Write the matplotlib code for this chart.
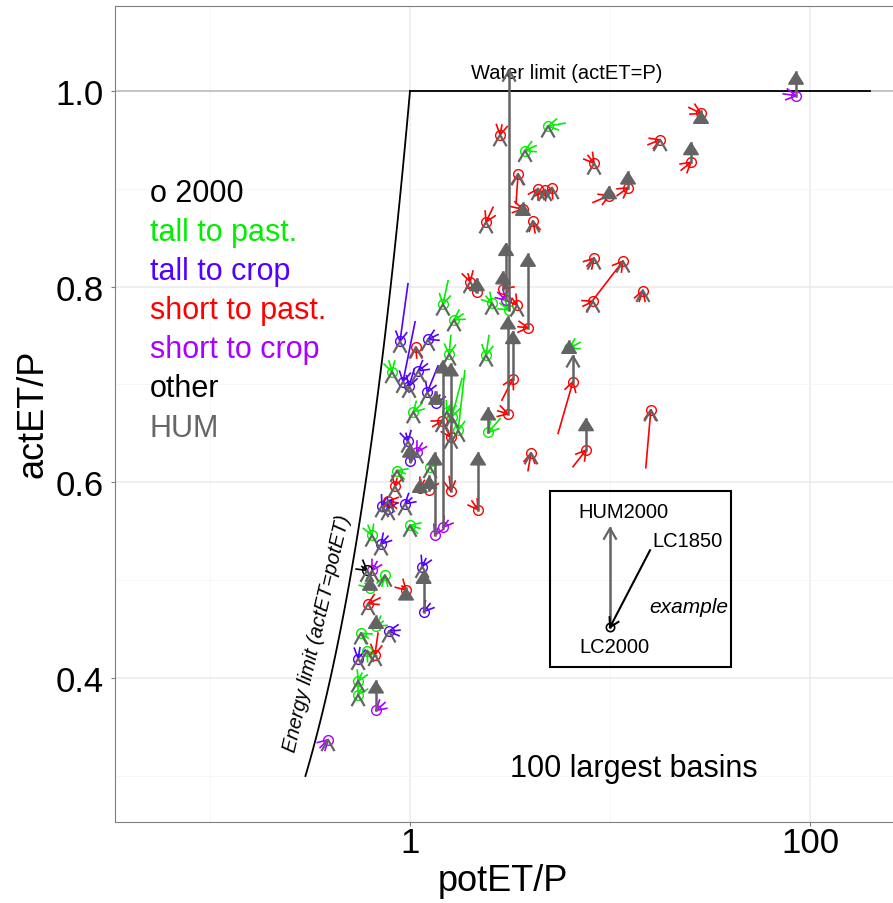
import numpy as np
import matplotlib
matplotlib.use("Agg")
import matplotlib.pyplot as plt
from matplotlib.patches import Rectangle, Polygon
from matplotlib.ticker import FixedLocator, NullFormatter

plt.rcParams['font.family'] = ['Liberation Sans', 'DejaVu Sans']

# --- datos: 100 cuencas mas grandes ---
cat = ['sc', 'sp', 'sp', 'sp', 'tp', 'tp', 'sp', 'sp', 'sp', 'sp',
       'sp', 'sp', 'sp', 'sp', 'sp', 'sp', 'sp', 'sp', 'sp', 'sp',
       'sp', 'sp', 'sp', 'sc', 'sp', 'tp', 'sp', 'tp', 'sp', 'sp',
       'sp', 'tp', 'tp', 'tp', 'tp', 'tp', 'sp', 'sp', 'sp', 'sp',
       'sp', 'sp', 'sc', 'sc', 'tc', 'sp', 'tc', 'tp', 'tp', 'tc',
       'tc', 'tc', 'tc', 'tc', 'tp', 'sp', 'tp', 'tp', 'sp', 'tp',
       'tc', 'sc', 'tc', 'tp', 'sp', 'sp', 'tp', 'sp', 'sp', 'tc',
       'tc', 'tc', 'tp', 'tp', 'tc', 'sc', 'other', 'tp', 'tp', 'tc',
       'tc', 'sp', 'sp', 'tp', 'tp', 'tc', 'tc', 'tp', 'sp', 'tp',
       'tp', 'sc', 'sc']

# potET/P y actET/P con cobertura 2000
pet_2000 = [85.1, 28.5, 17.8, 25.4, 4.90, 3.76, 2.82, 3.47, 3.67, 4.37,
            4.73, 5.13, 8.32, 9.89, 12.3, 2.40, 4.12, 8.32, 11.6, 8.22,
            14.6, 2.00, 2.16, 3.02, 2.92, 2.57, 3.43, 3.13, 3.89, 3.27,
            3.09, 2.46, 2.40, 1.46, 1.66, 6.24, 6.53, 16.0, 7.59, 4.03,
            2.19, 1.60, 1.46, 1.33, 0.891, 1.07, 1.23, 1.57, 0.813, 0.923,
            0.989, 1.10, 1.22, 1.35, 1.04, 1.45, 1.74, 1.62, 1.60, 1.53,
            0.977, 1.08, 1.00, 1.26, 1.12, 1.25, 0.861, 0.841, 0.776, 0.724,
            0.776, 0.944, 1.00, 0.646, 0.716, 0.646, 0.610, 0.631, 0.750, 1.15,
            1.17, 0.955, 0.617, 0.676, 0.569, 0.785, 0.550, 0.610, 0.668, 0.550,
            0.550, 0.676, 0.389]
aet_2000 = [0.995, 0.977, 0.950, 0.927, 0.964, 0.939, 0.955, 0.915, 0.879, 0.900,
            0.899, 0.901, 0.926, 0.893, 0.901, 0.866, 0.867, 0.829, 0.826, 0.785,
            0.796, 0.805, 0.795, 0.786, 0.798, 0.783, 0.781, 0.776, 0.758, 0.706,
            0.670, 0.651, 0.730, 0.782, 0.766, 0.737, 0.703, 0.674, 0.633, 0.630,
            0.572, 0.591, 0.554, 0.546, 0.744, 0.738, 0.746, 0.731, 0.713, 0.703,
            0.698, 0.714, 0.692, 0.681, 0.672, 0.663, 0.653, 0.667, 0.646, 0.672,
            0.642, 0.631, 0.622, 0.616, 0.594, 0.592, 0.612, 0.596, 0.581, 0.576,
            0.573, 0.578, 0.556, 0.546, 0.537, 0.510, 0.510, 0.492, 0.505, 0.514,
            0.468, 0.490, 0.476, 0.453, 0.446, 0.448, 0.420, 0.428, 0.424, 0.397,
            0.383, 0.367, 0.337]

# cobertura 1850
pet_1850 = [73.5, 24.8, 15.5, 22.7, 5.96, 4.27, 2.88, 3.39, 3.16, 4.17,
            4.52, 4.90, 7.76, 8.22, 10.85, 2.60, 4.22, 7.67, 8.13, 7.33,
            14.0, 1.95, 2.04, 2.75, 3.09, 2.40, 3.24, 2.82, 3.47, 2.88,
            2.75, 2.82, 2.48, 1.55, 1.84, 7.08, 5.50, 15.1, 6.53, 3.89,
            2.04, 1.57, 1.55, 1.38, 0.977, 1.08, 1.38, 1.60, 0.785, 1.06,
            1.05, 1.22, 1.38, 1.41, 1.15, 1.30, 1.88, 1.82, 1.51, 1.62,
            0.955, 1.15, 1.02, 1.35, 1.18, 1.30, 0.944, 0.861, 0.871, 0.759,
            0.813, 1.02, 1.12, 0.617, 0.776, 0.684, 0.575, 0.596, 0.724, 1.20,
            1.26, 0.912, 0.708, 0.733, 0.617, 0.891, 0.562, 0.646, 0.692, 0.575,
            0.575, 0.750, 0.355]
aet_1850 = [0.997, 0.983, 0.945, 0.919, 0.967, 0.944, 0.965, 0.885, 0.882, 0.893,
            0.891, 0.893, 0.934, 0.886, 0.893, 0.881, 0.855, 0.821, 0.785, 0.780,
            0.785, 0.813, 0.801, 0.794, 0.802, 0.790, 0.788, 0.783, 0.759, 0.684,
            0.673, 0.665, 0.750, 0.806, 0.772, 0.743, 0.650, 0.615, 0.616, 0.612,
            0.581, 0.606, 0.561, 0.553, 0.803, 0.727, 0.751, 0.750, 0.724, 0.764,
            0.716, 0.721, 0.719, 0.689, 0.681, 0.657, 0.714, 0.706, 0.655, 0.682,
            0.650, 0.640, 0.630, 0.622, 0.602, 0.600, 0.609, 0.604, 0.579, 0.584,
            0.581, 0.584, 0.553, 0.556, 0.545, 0.519, 0.514, 0.497, 0.494, 0.522,
            0.476, 0.494, 0.482, 0.458, 0.441, 0.449, 0.431, 0.420, 0.446, 0.405,
            0.390, 0.375, 0.329]

# actET/P con uso humano del agua (HUM2000)
aet_hum = [1.019, 0.979, 0.950, 0.947, 0.964, 0.939, 0.955, 0.915, 0.885, 0.900,
           0.899, 0.901, 0.926, 0.902, 0.917, 0.866, 0.867, 0.829, 0.826, 0.785,
           0.796, 0.805, 0.808, 0.844, 0.815, 0.783, 0.781, 1.021, 0.833, 0.754,
           0.769, 0.676, 0.730, 0.782, 0.766, 0.744, 0.729, 0.674, 0.665, 0.630,
           0.630, 0.721, 0.724, 0.630, 0.744, 0.738, 0.746, 0.731, 0.713, 0.703,
           0.698, 0.714, 0.692, 0.692, 0.672, 0.663, 0.653, 0.667, 0.646, 0.672,
           0.642, 0.631, 0.638, 0.616, 0.602, 0.606, 0.612, 0.596, 0.581, 0.576,
           0.573, 0.578, 0.556, 0.546, 0.537, 0.510, 0.510, 0.502, 0.505, 0.514,
           0.509, 0.492, 0.476, 0.463, 0.446, 0.448, 0.420, 0.428, 0.424, 0.397,
           0.383, 0.397, 0.337]
# cuencas con flecha HUM cerrada (triangulo)
hum_closed = [1, 1, 0, 1, 0, 0, 0, 0, 1, 0,
              0, 0, 0, 1, 1, 0, 0, 0, 0, 0,
              0, 0, 1, 1, 1, 0, 0, 0, 1, 1,
              1, 1, 0, 0, 0, 1, 0, 0, 1, 0,
              1, 1, 1, 1, 0, 0, 0, 0, 0, 0,
              0, 0, 0, 1, 0, 0, 0, 0, 0, 0,
              0, 0, 1, 0, 1, 1, 0, 0, 0, 0,
              0, 0, 0, 0, 0, 0, 0, 1, 0, 0,
              1, 1, 0, 1, 0, 0, 0, 0, 0, 0,
              0, 1, 0]

legend_labels = ['o 2000', 'tall to past.', 'tall to crop', 'short to past.',
                 'short to crop', 'other', 'HUM']
colors = {'tp': '#00ee00', 'tc': '#5200ff', 'sp': '#ff0000',
          'sc': '#aa00ff', 'other': '#000000'}
legend_colors = ['#000000', colors['tp'], colors['tc'], colors['sp'],
                 colors['sc'], colors['other'], '#666666']
GRAY = '#636363'

# --- figura ---
fig = plt.figure(figsize=(8.93, 9.04), dpi=100)
ax = fig.add_axes([115/893, 81/904, 780/893, 816/904])
ax.set_xscale('log')
ax.set_xlim(0.0335, 266)
ax.set_ylim(0.253, 1.0867)

ax.xaxis.set_major_locator(FixedLocator([1, 100]))
ax.set_xticklabels(['1', '100'])
ax.xaxis.set_minor_locator(FixedLocator([0.1, 10]))
ax.xaxis.set_minor_formatter(NullFormatter())
ax.yaxis.set_major_locator(FixedLocator([0.4, 0.6, 0.8, 1.0]))
ax.set_yticklabels(['0.4', '0.6', '0.8', '1.0'])
ax.yaxis.set_minor_locator(FixedLocator([0.3, 0.5, 0.7, 0.9]))
ax.grid(which='major', color='#ebebeb', lw=1.1)
ax.grid(which='minor', color='#f5f5f5', lw=0.6)
ax.set_axisbelow(True)
ax.tick_params(which='major', length=3, color='#7f7f7f', labelsize=25, pad=0)
ax.tick_params(axis='y', pad=5)
ax.tick_params(which='minor', length=0)
for s in ax.spines.values():
    s.set_color('#7f7f7f')
    s.set_linewidth(0.8)

fig.text(33/893, 1 - 414/904, 'actET/P', rotation=90, ha='center', va='center', fontsize=26)
fig.text(503/893, 1 - 882/904, 'potET/P', ha='center', va='center', fontsize=26)

# limites de energia y agua
ax.axhline(1.0, color='#bdbdbd', lw=1.2, zorder=1)
xe = np.logspace(np.log10(0.3), 0, 60)
ax.plot(xe, xe, color='black', lw=1.3, zorder=2)
ax.plot([1, 200], [1, 1], color='black', lw=1.3, zorder=2)
ax.text(6.1, 1.019, 'Water limit (actET=P)', ha='center', va='center', fontsize=14.5)
ax.text(0.343, 0.446, 'Energy limit (actET=potET)', ha='center', va='center',
        fontsize=14.5, style='italic', rotation=77)

inv = ax.transData.inverted()


def draw_head(x, y, ang, L, half, color, lw, closed, z):
    tip = ax.transData.transform((x, y))
    b1 = tip + L * np.array([np.cos(ang + np.pi - half), np.sin(ang + np.pi - half)])
    b2 = tip + L * np.array([np.cos(ang + np.pi + half), np.sin(ang + np.pi + half)])
    pts = inv.transform(np.array([b1, tip, b2]))
    if closed:
        ax.add_patch(Polygon(pts, closed=True, fc=color, ec=color, lw=lw, zorder=z))
    else:
        ax.plot(pts[:, 0], pts[:, 1], color=color, lw=lw, zorder=z)


# flechas de cambio de cobertura 1850 -> 2000
for i in range(len(cat)):
    c = colors[cat[i]]
    ax.plot([pet_1850[i], pet_2000[i]], [aet_1850[i], aet_2000[i]], color=c, lw=1.2, zorder=3)
    p0 = ax.transData.transform((pet_1850[i], aet_1850[i]))
    p1 = ax.transData.transform((pet_2000[i], aet_2000[i]))
    ang = np.arctan2(p1[1] - p0[1], p1[0] - p0[0])
    draw_head(pet_2000[i], aet_2000[i], ang, 11, np.radians(30), c, 1.2, False, 3)
    ax.plot(pet_2000[i], aet_2000[i], 'o', ms=7, mfc='none', mec=c, mew=1.0, zorder=4)

# flechas HUM (gris)
for i in range(len(cat)):
    if aet_hum[i] > aet_2000[i]:
        ax.plot([pet_2000[i], pet_2000[i]], [aet_2000[i], aet_hum[i]], color=GRAY, lw=1.8, zorder=5)
    if hum_closed[i]:
        draw_head(pet_2000[i], aet_hum[i], np.pi / 2, 14, np.radians(32), GRAY, 1.0, True, 5)
    else:
        draw_head(pet_2000[i], aet_hum[i], np.pi / 2, 12, np.radians(30), GRAY, 1.6, False, 5)

# leyenda de texto
for k, (lab, col) in enumerate(zip(legend_labels, legend_colors)):
    ax.text(0.05, 0.896 - 0.04 * k, lab, color=col, fontsize=22, ha='left', va='center')

ax.text(13.2, 0.308, '100 largest basins', ha='center', va='center', fontsize=22)

# recuadro de ejemplo
ax.add_patch(Rectangle((5.01, 0.4112), 40.3 - 5.01, 0.5908 - 0.4112, fill=False,
                       ec='black', lw=1.5, zorder=6))
ax.plot([10, 10], [0.452, 0.553], color=GRAY, lw=1.8, zorder=6)
draw_head(10, 0.553, np.pi / 2, 12, np.radians(30), GRAY, 1.6, False, 6)
ax.plot([15.85, 10], [0.5306, 0.452], color='black', lw=1.5, zorder=6)
q0 = ax.transData.transform((15.85, 0.5306))
q1 = ax.transData.transform((10, 0.452))
draw_head(10, 0.452, np.arctan2(q1[1] - q0[1], q1[0] - q0[0]), 10, np.radians(30), 'black', 1.5, False, 6)
ax.plot(10, 0.452, 'o', ms=6, mfc='none', mec='black', mew=1.2, zorder=6)
ax.text(11.7, 0.570, 'HUM2000', ha='center', va='center', fontsize=14.5)
ax.text(24.3, 0.541, 'LC1850', ha='center', va='center', fontsize=14.5)
ax.text(24.8, 0.473, 'example', ha='center', va='center', fontsize=15, style='italic')
ax.text(10.5, 0.432, 'LC2000', ha='center', va='center', fontsize=14.5)

fig.savefig('out.png', dpi=100)
